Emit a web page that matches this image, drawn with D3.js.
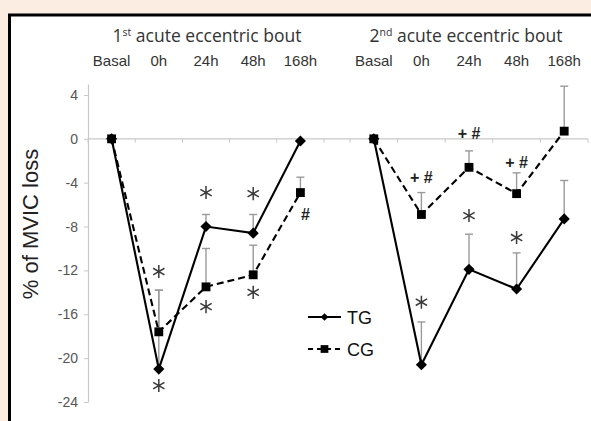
<!DOCTYPE html>
<html>
<head>
<meta charset="utf-8">
<script src="https://cdn.jsdelivr.net/npm/d3@7"></script>
<style>
  html, body { margin: 0; padding: 0; background: #fcede2; }
  svg { display: block; }
</style>
</head>
<body>
<script>
(() => {
  const times = ["Basal", "0h", "24h", "48h", "168h"];
  const boutTitles = [["1", "st", " acute eccentric bout"], ["2", "nd", " acute eccentric bout"]];
  const yTicks = [4, 0, -4, -8, -12, -16, -20, -24];

  // mean % of MVIC loss, and upward SD
  const tgMean1 = [0, -21.0, -8.0, -8.6, -0.2];
  const tgSd1 = [0, 7.2, 1.1, 1.7, 0];
  const cgMean1 = [0, -17.6, -13.5, -12.4, -4.9];
  const cgSd1 = [0, 3.8, 3.5, 2.7, 1.4];
  const tgMean2 = [0, -20.6, -11.9, -13.7, -7.3];
  const tgSd2 = [0, 3.9, 3.2, 3.3, 3.5];
  const cgMean2 = [0, -6.9, -2.6, -5.0, 0.7];
  const cgSd2 = [0, 2.0, 1.5, 1.9, 4.1];

  // significance marks: bout index, time, value level, label
  const marks = [
    [0, "0h", -12.1, "*"], [0, "0h", -22.5, "*"],
    [0, "24h", -4.9, "*"], [0, "24h", -15.3, "*"],
    [0, "48h", -5.0, "*"], [0, "48h", -14.0, "*"],
    [0, "168h", -6.9, "#"],
    [1, "0h", -3.5, "+ #"], [1, "24h", 0.5, "+ #"], [1, "48h", -2.1, "+ #"],
    [1, "0h", -14.9, "*"], [1, "24h", -7.0, "*"], [1, "48h", -9.0, "*"]
  ];

  const width = 591, height = 421;
  const svg = d3.select("body").append("svg")
    .attr("width", width).attr("height", height);

  // white panel with black frame (right/bottom edges run off the picture)
  svg.append("rect").attr("x", 9.5).attr("y", 15).attr("width", 600).attr("height", 420)
    .attr("fill", "#fff").attr("stroke", "#000").attr("stroke-width", 3);

  const y = d3.scaleLinear().domain([-24, 5]).range([402, 84]);
  const xs = [
    d3.scaleBand().domain(times).range([88, 324]),
    d3.scaleBand().domain(times).range([350, 588])
  ];
  const cx = (b, t) => xs[b](t) + xs[b].bandwidth() / 2;

  // y axis
  const yAxis = svg.append("g").attr("transform", "translate(88,0)")
    .call(d3.axisLeft(y).tickValues(yTicks).tickFormat((d) => String(d))
      .tickSize(4).tickPadding(6).tickSizeOuter(0));
  yAxis.select(".domain").attr("stroke", "#c8c8c8").attr("stroke-width", 1.2);
  yAxis.selectAll(".tick line").attr("stroke", "#c8c8c8");
  yAxis.selectAll(".tick text").attr("fill", "#555")
    .style("font", "14px 'Liberation Sans', Arial, sans-serif");

  svg.append("text")
    .attr("transform", "translate(38,224) rotate(-90)")
    .attr("text-anchor", "middle")
    .style("font", "22px 'Liberation Sans', Arial, sans-serif")
    .attr("fill", "#222")
    .text("% of MVIC loss");

  // zero line with boundary ticks
  svg.append("line").attr("x1", 88).attr("x2", 588)
    .attr("y1", y(0)).attr("y2", y(0))
    .attr("stroke", "#c8c8c8").attr("stroke-width", 1.2);
  xs.forEach((x) => {
    const edges = x.domain().map((d) => x(d)).concat([x.range()[1]]);
    svg.append("g").selectAll("line").data(edges).join("line")
      .attr("x1", (d) => d).attr("x2", (d) => d)
      .attr("y1", y(0)).attr("y2", y(0) + 4)
      .attr("stroke", "#c8c8c8");
  });

  // titles and category labels
  boutTitles.forEach((t, b) => {
    const mid = (xs[b].range()[0] + xs[b].range()[1]) / 2 + (b === 0 ? 1 : -3);
    const tt = svg.append("text").attr("x", mid).attr("y", 42)
      .attr("text-anchor", "middle").attr("fill", "#333")
      .style("font", "17.5px 'Open Sans', sans-serif");
    tt.append("tspan").text(t[0]);
    tt.append("tspan").attr("dy", -6).style("font-size", "10.5px").text(t[1]);
    tt.append("tspan").attr("dy", 6).text(t[2]);

    svg.append("g").selectAll("text").data(times).join("text")
      .attr("x", (d) => cx(b, d)).attr("y", 66)
      .attr("text-anchor", "middle").attr("fill", "#333")
      .style("font", "15px 'Liberation Sans', Arial, sans-serif")
      .text((d) => d);
  });

  // diamond = square turned 45 degrees
  const diamond = { draw: (ctx, size) => d3.symbolSquare.draw(ctx, size) };
  const series = [
    { bout: 0, mean: tgMean1, sd: tgSd1, dash: null, rot: 45 },
    { bout: 0, mean: cgMean1, sd: cgSd1, dash: "7,4", rot: 0 },
    { bout: 1, mean: tgMean2, sd: tgSd2, dash: null, rot: 45 },
    { bout: 1, mean: cgMean2, sd: cgSd2, dash: "7,4", rot: 0 }
  ];

  // error bars first (behind lines)
  series.forEach((s) => {
    const pts = times.map((t, i) => ({ t, m: s.mean[i], sd: s.sd[i] })).filter((p) => p.sd > 0);
    const g = svg.append("g").attr("stroke", "#9a9a9a").attr("stroke-width", 1.4);
    g.selectAll(".v").data(pts).join("line")
      .attr("x1", (p) => cx(s.bout, p.t)).attr("x2", (p) => cx(s.bout, p.t))
      .attr("y1", (p) => y(p.m)).attr("y2", (p) => y(p.m + p.sd));
    g.selectAll(".c").data(pts).join("line")
      .attr("x1", (p) => cx(s.bout, p.t) - 4).attr("x2", (p) => cx(s.bout, p.t) + 4)
      .attr("y1", (p) => y(p.m + p.sd)).attr("y2", (p) => y(p.m + p.sd));
  });

  series.forEach((s) => {
    const line = d3.line().x((d, i) => cx(s.bout, times[i])).y((d) => y(d));
    svg.append("path").datum(s.mean).attr("d", line)
      .attr("fill", "none").attr("stroke", "#000").attr("stroke-width", 2.1)
      .attr("stroke-dasharray", s.dash);
    svg.append("g").selectAll("path").data(s.mean).join("path")
      .attr("transform", (d, i) => `translate(${cx(s.bout, times[i])},${y(d)}) rotate(${s.rot})`)
      .attr("d", d3.symbol(s.rot ? diamond : d3.symbolSquare, s.rot ? 62 : 78))
      .attr("fill", "#000");
  });

  // significance marks
  const star = d3.symbol(d3.symbolAsterisk, 120);
  marks.forEach(([b, t, v, label]) => {
    if (label === "*") {
      svg.append("path")
        .attr("transform", `translate(${cx(b, t)},${y(v)})`)
        .attr("d", star).attr("fill", "none")
        .attr("stroke", "#3a3a3a").attr("stroke-width", 1.5);
    } else {
      svg.append("text")
        .attr("x", cx(b, t) + (label === "#" ? 5 : 0)).attr("y", y(v) + 6)
        .attr("text-anchor", "middle").attr("fill", "#222")
        .style("font", "bold 16px 'Liberation Sans', Arial, sans-serif")
        .text(label);
    }
  });

  // legend
  const legend = [
    { name: "TG", dash: null, rot: 45, ly: 317 },
    { name: "CG", dash: "7,4", rot: 0, ly: 349 }
  ];
  legend.forEach((l) => {
    svg.append("line").attr("x1", 308).attr("x2", 341)
      .attr("y1", l.ly).attr("y2", l.ly)
      .attr("stroke", "#000").attr("stroke-width", 2.1)
      .attr("stroke-dasharray", l.dash ? "5,4" : null);
    svg.append("path").attr("transform", `translate(324.5,${l.ly}) rotate(${l.rot})`)
      .attr("d", d3.symbol(l.rot ? diamond : d3.symbolSquare, l.rot ? 30 : 60)).attr("fill", "#000");
    svg.append("text").attr("x", 347).attr("y", l.ly + 6.5)
      .attr("fill", "#111")
      .style("font", "18px 'Liberation Sans', Arial, sans-serif")
      .text(l.name);
  });
})();
</script>
</body>
</html>
